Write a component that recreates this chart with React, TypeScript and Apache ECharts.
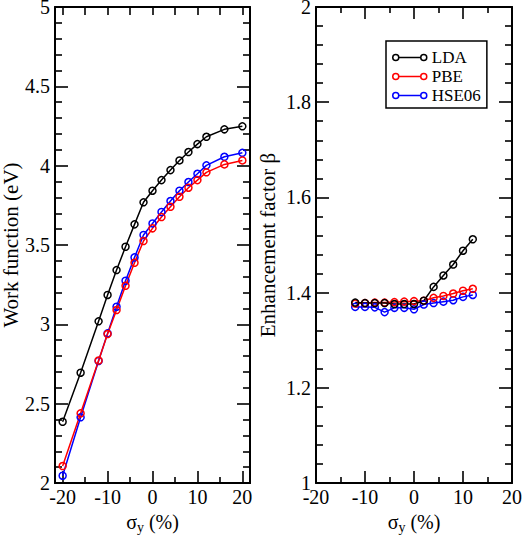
import React, { useEffect, useRef } from 'react';
import * as echarts from 'echarts';

// ---- data ----
const strainWF = [-20, -16, -12, -10, -8, -6, -4, -2, 0, 2, 4, 6, 8, 10, 12, 16, 20];
const wfLDA = [2.386, 2.695, 3.019, 3.185, 3.342, 3.489, 3.63, 3.769, 3.842, 3.909, 3.972, 4.033, 4.086, 4.136, 4.182, 4.229, 4.248];
const wfPBE = [2.107, 2.439, 2.772, 2.939, 3.09, 3.243, 3.388, 3.525, 3.605, 3.676, 3.741, 3.804, 3.861, 3.909, 3.958, 4.008, 4.033];
const wfHSE = [2.046, 2.414, 2.769, 2.943, 3.111, 3.275, 3.422, 3.563, 3.636, 3.708, 3.777, 3.842, 3.897, 3.949, 4.002, 4.056, 4.081];

const strainBeta = [-12, -10, -8, -6, -4, -2, 0, 2, 4, 6, 8, 10, 12];
const betaLDA = [1.379, 1.378, 1.378, 1.378, 1.376, 1.376, 1.376, 1.383, 1.412, 1.436, 1.459, 1.488, 1.512];
const betaPBE = [1.377, 1.378, 1.379, 1.379, 1.38, 1.381, 1.382, 1.383, 1.389, 1.393, 1.398, 1.404, 1.408];
const betaHSE = [1.37, 1.37, 1.369, 1.359, 1.368, 1.368, 1.365, 1.375, 1.378, 1.381, 1.384, 1.391, 1.395];

const seriesNames = ['LDA', 'PBE', 'HSE06'];
const seriesColors = ['#000000', '#ff0000', '#0000ff'];

const xMajorTicks = [-20, -10, 0, 10, 20];
const xMinorTicks = [-15, -5, 5, 15];

const FONT = 'Liberation Serif';

const zip = (xs: number[], ys: number[]) => xs.map((x, i) => [x, ys[i]]);

const axisLine = { show: true, onZero: false, lineStyle: { color: '#000', width: 2 } };
const tickStyle = { width: 1.6, color: '#000' };

export default function App() {
  const ref = useRef<HTMLDivElement>(null);
  useEffect(() => {
    if (!ref.current) return;
    const chart = echarts.init(ref.current, undefined, { renderer: 'svg' });

    const xName = '{a|σ}{b|y}{a| (%)}';
    const xNameStyle = {
      color: '#000',
      fontFamily: FONT,
      fontSize: 20,
      rich: {
        a: { fontFamily: FONT, fontSize: 20, color: '#000' },
        b: { fontFamily: FONT, fontSize: 14, color: '#000', padding: [12, 0, 0, 0] },
      },
    };
    const tickLabel = (margin: number, extra: any = {}) => ({
      show: true,
      color: '#000',
      fontFamily: FONT,
      fontSize: 20,
      margin,
      textStyle: { fontFamily: FONT, fontSize: 20, color: '#000' },
      ...extra,
    });

    const leftXCommon = { type: 'value', gridIndex: 0, min: -21.7, max: 21.7, splitLine: { show: false }, axisLine };
    const xAxes: any[] = [
      {
        ...leftXCommon,
        position: 'bottom',
        axisTick: { show: true, inside: true, length: 12, customValues: xMajorTicks, lineStyle: tickStyle },
        axisLabel: tickLabel(4, { customValues: xMajorTicks }),
        name: xName,
        nameLocation: 'middle',
        nameGap: 24,
        nameTextStyle: xNameStyle,
      },
      {
        ...leftXCommon,
        position: 'bottom',
        axisTick: { show: true, inside: true, length: 6, customValues: xMinorTicks, lineStyle: tickStyle },
        axisLabel: { show: false },
      },
      {
        ...leftXCommon,
        position: 'top',
        axisTick: { show: true, inside: true, length: 8, customValues: [...xMajorTicks, ...xMinorTicks], lineStyle: tickStyle },
        axisLabel: { show: false },
      },
      {
        type: 'value', gridIndex: 1, position: 'bottom', min: -20, max: 20, interval: 10,
        splitLine: { show: false }, axisLine,
        axisTick: { show: true, inside: true, length: 12, lineStyle: tickStyle },
        minorTick: { show: true, splitNumber: 2, length: 6, lineStyle: tickStyle },
        axisLabel: tickLabel(4),
        name: xName,
        nameLocation: 'middle',
        nameGap: 24,
        nameTextStyle: xNameStyle,
      },
      {
        type: 'value', gridIndex: 1, position: 'top', min: -20, max: 20, interval: 10,
        splitLine: { show: false }, axisLine,
        axisTick: { show: true, inside: true, length: 12, lineStyle: tickStyle },
        minorTick: { show: true, splitNumber: 2, length: 6, lineStyle: tickStyle },
        axisLabel: { show: false },
      },
    ];

    const yCommon = (grid: number, min: number, max: number, interval: number, position: string) => ({
      type: 'value', gridIndex: grid, min, max, interval, position,
      splitLine: { show: false }, axisLine,
      axisTick: { show: true, inside: true, length: 13, lineStyle: tickStyle },
      minorTick: { show: true, splitNumber: 5, length: 7, lineStyle: tickStyle },
    });

    const yAxes: any[] = [
      {
        ...yCommon(0, 2, 5, 0.5, 'left'),
        axisLabel: tickLabel(5),
        name: 'Work function (eV)',
        nameLocation: 'middle',
        nameGap: 34,
        nameTextStyle: { color: '#000', fontFamily: FONT, fontSize: 21 },
      },
      { ...yCommon(0, 2, 5, 0.5, 'right'), axisLabel: { show: false } },
      {
        ...yCommon(1, 1, 2, 0.2, 'left'),
        axisLabel: tickLabel(5),
        name: 'Enhancement factor β',
        nameLocation: 'middle',
        nameGap: 38,
        nameTextStyle: { color: '#000', fontFamily: FONT, fontSize: 21 },
      },
      { ...yCommon(1, 1, 2, 0.2, 'right'), axisLabel: { show: false } },
    ];

    const mk = (name: string, color: string, data: number[][], xi: number, yi: number) => ({
      type: 'line',
      name,
      xAxisIndex: xi,
      yAxisIndex: yi,
      data,
      symbol: 'circle',
      symbolSize: 7,
      showSymbol: true,
      lineStyle: { color, width: 1.5 },
      itemStyle: { color: 'transparent', borderColor: color, borderWidth: 1.5 },
      emphasis: { disabled: true },
      z: 2,
    });

    const wfData = [wfLDA, wfPBE, wfHSE];
    const betaData = [betaLDA, betaPBE, betaHSE];
    const order = [2, 1, 0];
    const series: any[] = [];
    order.forEach((i) => series.push(mk(seriesNames[i], seriesColors[i], zip(strainWF, wfData[i]), 0, 0)));
    order.forEach((i) => series.push(mk(seriesNames[i], seriesColors[i], zip(strainBeta, betaData[i]), 3, 2)));

    const iconPath =
      'path://M0,3a3,3 0 1,0 6,0a3,3 0 1,0 -6,0M6,3L28,3M28,3a3,3 0 1,0 6,0a3,3 0 1,0 -6,0';

    chart.setOption({
      animation: false,
      backgroundColor: '#fff',
      textStyle: { fontFamily: FONT },
      grid: [
        { left: 55, top: 7, width: 195, height: 476, containLabel: false, outerBoundsMode: 'none' },
        { left: 316, top: 7, width: 196, height: 476, containLabel: false, outerBoundsMode: 'none' },
      ],
      xAxis: xAxes,
      yAxis: yAxes,
      legend: {
        orient: 'vertical',
        left: 386,
        top: 41,
        padding: [7, 6, 3, 6],
        itemGap: 0,
        itemWidth: 34,
        itemHeight: 6,
        icon: iconPath,
        selectedMode: false,
        backgroundColor: '#fff',
        borderColor: '#000',
        borderWidth: 1.5,
        borderRadius: 0,
        textStyle: { color: '#000', fontFamily: FONT, fontSize: 17, lineHeight: 19 },
        data: seriesNames.map((n, i) => ({
          name: n,
          itemStyle: { color: 'transparent', borderColor: seriesColors[i], borderWidth: 1.5 },
        })),
      },
      series,
    });
    return () => chart.dispose();
  }, []);
  return <div ref={ref} style={{ position: 'fixed', left: 0, top: 0, width: 524, height: 537 }} />;
}
